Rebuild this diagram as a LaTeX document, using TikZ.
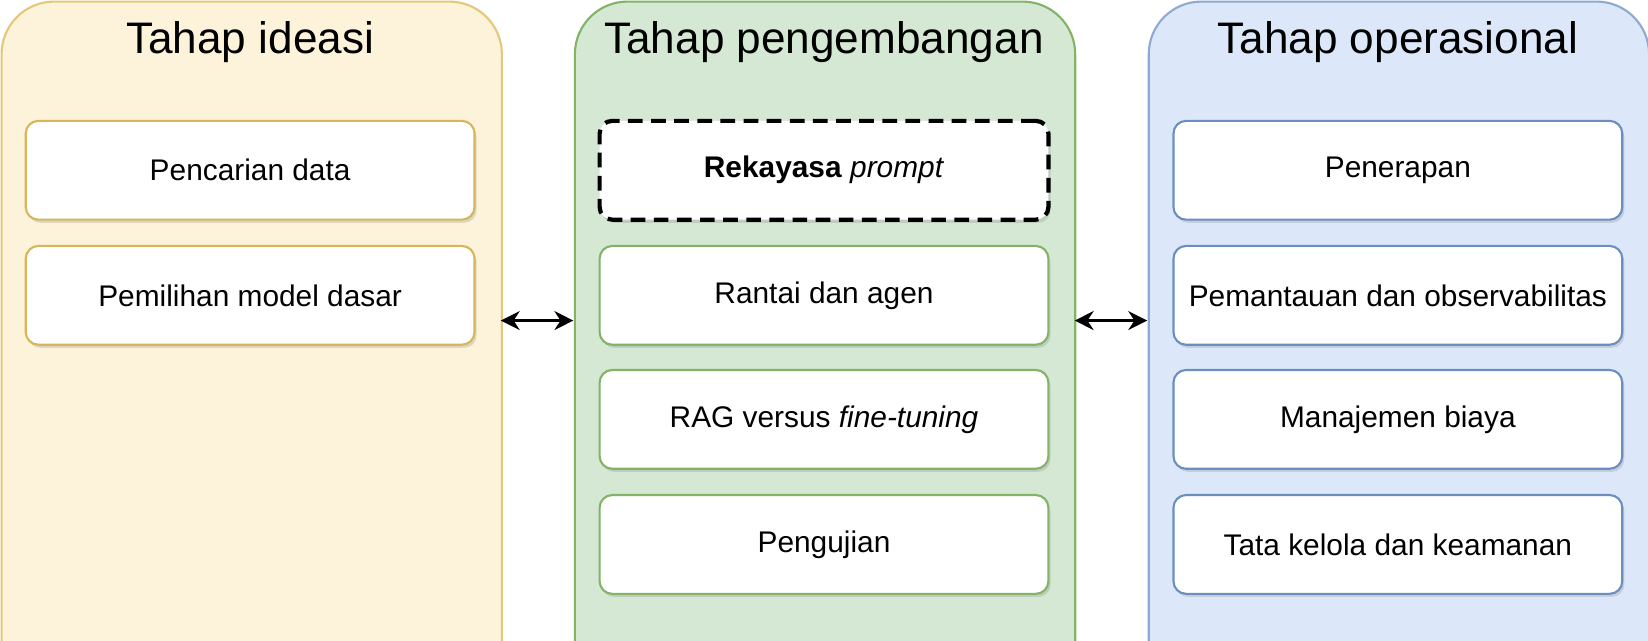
\documentclass[tikz,border=0pt]{standalone}
\usepackage{fontspec}
\setmainfont{Liberation Sans}
\usetikzlibrary{shadows,arrows.meta}
\begin{document}
\begin{tikzpicture}[x=0.5pt,y=-0.5pt,
 box/.style={draw=#1,fill=white,line width=1pt,rounded corners=6pt,minimum width=213.5pt,minimum height=47pt,font=\fontsize{14.2}{17}\selectfont,drop shadow={opacity=0.25,shadow xshift=1pt,shadow yshift=-1.5pt}},
 ttl/.style={font=\fontsize{21}{25}\selectfont},
 arr/.style={{Stealth[length=9pt,width=9pt]}-{Stealth[length=9pt,width=9pt]},line width=1.2pt}]
\useasboundingbox (0,0) rectangle (1568,609);
\begin{scope}
\clip (0,0) rectangle (1568,609);
\definecolor{ye}{HTML}{FDF3DA}\definecolor{yeS}{HTML}{E3C77A}
\definecolor{gr}{HTML}{D5E8D4}\definecolor{grS}{HTML}{82B366}
\definecolor{bl}{HTML}{DCE8FA}\definecolor{blS}{HTML}{8FA9D2}
\node[draw=yeS,fill=ye,line width=1pt,rounded corners=25pt,minimum width=238pt,minimum height=330pt,anchor=north west,inner sep=0pt] (P1) at (0.5,0.5) {};
\node[draw=grS,fill=gr,line width=1pt,rounded corners=25pt,minimum width=238pt,minimum height=330pt,anchor=north west,inner sep=0pt] (P2) at (546,0.5) {};
\node[draw=blS,fill=bl,line width=1pt,rounded corners=25pt,minimum width=238pt,minimum height=330pt,anchor=north west,inner sep=0pt] (P3) at (1092,0.5) {};
\end{scope}
\definecolor{yeS}{HTML}{D6B656}\definecolor{grS}{HTML}{82B366}\definecolor{blS}{HTML}{6C8EBF}
\node[ttl] (T1) at (238,40) {Tahap ideasi};
\node[ttl] (T2) at (784,40) {Tahap pengembangan};
\node[ttl] (T3) at (1330,40) {Tahap operasional};
\node[box=yeS] (a1) at (238,162) {Pencarian data};
\node[box=yeS] (a2) at (238,281) {Pemilihan model dasar};
\node[box=black,dashed,dash pattern=on 7pt off 4pt,line width=2pt] (b1) at (784,162) {\textbf{Rekayasa} \textit{prompt}};
\node[box=grS] (b2) at (784,281) {Rantai dan agen};
\node[box=grS] (b3) at (784,399) {RAG versus \textit{fine-tuning}};
\node[box=grS] (b4) at (784,518) {Pengujian};
\node[box=blS] (c1) at (1330,162) {Penerapan};
\node[box=blS] (c2) at (1330,281) {Pemantauan dan observabilitas};
\node[box=blS] (c3) at (1330,399) {Manajemen biaya};
\node[box=blS] (c4) at (1330,518) {Tata kelola dan keamanan};
\coordinate (L1) at (476.5,305); \coordinate (R1) at (545.5,305);
\coordinate (L2) at (1022.5,305); \coordinate (R2) at (1091.5,305);
\draw[arr] (L1) -- (R1);
\draw[arr] (L2) -- (R2);
\end{tikzpicture}
\end{document}
